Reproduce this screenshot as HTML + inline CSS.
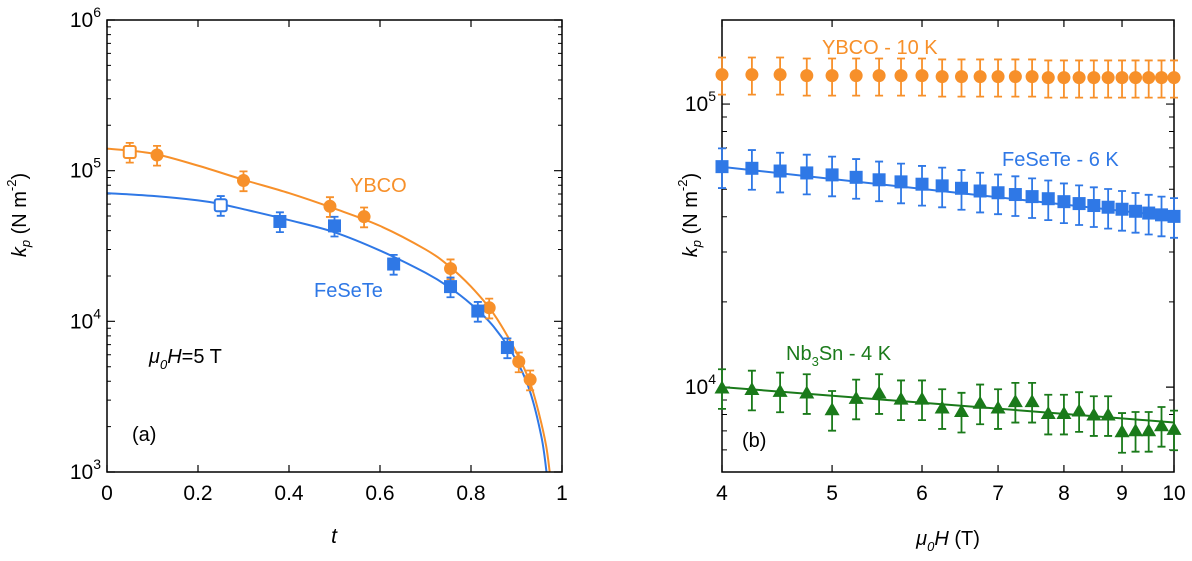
<!DOCTYPE html>
<html><head><meta charset="utf-8"><style>
html,body{margin:0;padding:0;background:#fff;}
svg{display:block;font-family:"Liberation Sans",Arial,sans-serif;}
</style></head><body>
<svg id="fig" width="1192" height="561" viewBox="0 0 1192 561" xmlns="http://www.w3.org/2000/svg">
<g id="pa"></g>
<g id="pb"></g>
<!-- panel a text -->
<text x="21" y="215" transform="rotate(-90 21 215)" font-size="20" text-anchor="middle" dominant-baseline="middle"><tspan font-style="italic">k</tspan><tspan font-style="italic" font-size="13" dy="6">p</tspan><tspan dy="-6"> (N m</tspan><tspan font-size="13" dy="-8">-2</tspan><tspan dy="8">)</tspan></text>
<text x="334" y="543" font-size="21" font-style="italic" text-anchor="middle">t</text>
<text x="350" y="192" font-size="20" fill="#f7902a">YBCO</text>
<text x="314" y="297" font-size="20" fill="#2f78e6">FeSeTe</text>
<text x="149" y="363" font-size="20"><tspan font-style="italic">μ</tspan><tspan font-style="italic" font-size="13" dy="6">0</tspan><tspan font-style="italic" dy="-6">H</tspan>=5 T</text>
<text x="132" y="441" font-size="20">(a)</text>
<!-- panel b text -->
<text x="692" y="215" transform="rotate(-90 692 215)" font-size="20" text-anchor="middle" dominant-baseline="middle"><tspan font-style="italic">k</tspan><tspan font-style="italic" font-size="13" dy="6">p</tspan><tspan dy="-6"> (N m</tspan><tspan font-size="13" dy="-8">-2</tspan><tspan dy="8">)</tspan></text>
<text x="948" y="545" font-size="20" text-anchor="middle"><tspan font-style="italic">μ</tspan><tspan font-style="italic" font-size="13" dy="6">0</tspan><tspan font-style="italic" dy="-6">H</tspan> (T)</text>
<text x="822" y="54" font-size="20" fill="#f7902a">YBCO - 10 K</text>
<text x="1002" y="166" font-size="20" fill="#2f78e6">FeSeTe - 6 K</text>
<text x="786" y="360" font-size="20" fill="#1a7a1a">Nb<tspan font-size="13" dy="6">3</tspan><tspan dy="-6">Sn - 4 K</tspan></text>
<text x="742" y="447" font-size="20">(b)</text>
</svg>
<script>
// ---------- Panel (a) data ----------
const aXTicks = [0, 0.2, 0.4, 0.6, 0.8, 1];
const aXTickLabels = ["0", "0.2", "0.4", "0.6", "0.8", "1"];
const aYDecades = [3, 4, 5, 6];
const ybcoT = [0.05, 0.11, 0.30, 0.49, 0.565, 0.755, 0.84, 0.905, 0.93];
const ybcoK = [1.33e5, 1.27e5, 8.6e4, 5.8e4, 4.95e4, 2.24e4, 1.23e4, 5.4e3, 4.1e3];
const ybcoOpen = [true, false, false, false, false, false, false, false, false];
const feT = [0.25, 0.38, 0.50, 0.63, 0.755, 0.815, 0.88];
const feK = [5.9e4, 4.6e4, 4.3e4, 2.4e4, 1.7e4, 1.17e4, 6.7e3];
const feOpen = [true, false, false, false, false, false, false];
const ybcoFitT = [0, 0.1, 0.2, 0.3, 0.4, 0.5, 0.6, 0.7, 0.75, 0.8, 0.85, 0.9, 0.93, 0.95, 0.965, 0.973];
const ybcoFitK = [1.4e5, 1.3e5, 1.08e5, 8.7e4, 7.1e4, 5.6e4, 4.3e4, 3.0e4, 2.35e4, 1.7e4, 1.12e4, 6.2e3, 3.9e3, 2.4e3, 1.5e3, 1.0e3];
const feFitT = [0, 0.1, 0.2, 0.25, 0.3, 0.4, 0.5, 0.6, 0.7, 0.75, 0.8, 0.85, 0.9, 0.93, 0.955, 0.966];
const feFitK = [7.1e4, 6.8e4, 6.35e4, 6.0e4, 5.55e4, 4.7e4, 3.9e4, 2.95e4, 2.1e4, 1.7e4, 1.3e4, 9.2e3, 5.5e3, 3.4e3, 1.7e3, 1.0e3];
const aErrFrac = 0.15;

// ---------- Panel (b) data ----------
const bXTicks = [4, 5, 6, 7, 8, 9, 10];
const bXTickLabels = ["4", "5", "6", "7", "8", "9", "10"];
const bH = [4,4.25,4.5,4.75,5,5.25,5.5,5.75,6,6.25,6.5,6.75,7,7.25,7.5,7.75,8,8.25,8.5,8.75,9,9.25,9.5,9.75,10];
const bYbco = [1.27e5,1.27e5,1.27e5,1.26e5,1.26e5,1.26e5,1.26e5,1.26e5,1.26e5,1.25e5,1.25e5,1.25e5,1.25e5,1.25e5,1.25e5,1.24e5,1.24e5,1.24e5,1.24e5,1.24e5,1.24e5,1.24e5,1.24e5,1.24e5,1.24e5];
const bFe = [6.01e4,5.93e4,5.80e4,5.71e4,5.62e4,5.51e4,5.40e4,5.31e4,5.21e4,5.14e4,5.04e4,4.93e4,4.86e4,4.79e4,4.71e4,4.63e4,4.52e4,4.45e4,4.38e4,4.32e4,4.25e4,4.18e4,4.12e4,4.06e4,4.01e4];
const bNb = [9.97e3,9.85e3,9.7e3,9.57e3,8.35e3,9.16e3,9.57e3,9.1e3,9.1e3,8.47e3,8.23e3,8.8e3,8.47e3,8.92e3,8.92e3,8.1e3,8.1e3,8.27e3,8.0e3,8.0e3,6.98e3,7.04e3,7.04e3,7.33e3,7.12e3];
const bFeFitH = [4, 10];
const bFeFitK = [6.0e4, 4.0e4];
const bNbFitH = [4, 10];
const bNbFitK = [1.0e4, 7.5e3];
const bErrFrac = [0.15, 0.16, 0.16];

const NS = "http://www.w3.org/2000/svg";
const ORANGE = "#f7902a", BLUE = "#2f78e6", GREEN = "#1a7a1a";
function mk(parent, tag, attrs) {
  const e = document.createElementNS(NS, tag);
  for (const k in attrs) e.setAttribute(k, attrs[k]);
  parent.appendChild(e);
  return e;
}
function smoothPath(pts) {
  let d = "M" + pts[0][0] + "," + pts[0][1];
  for (let i = 0; i < pts.length - 1; i++) {
    const p0 = pts[Math.max(0, i - 1)], p1 = pts[i], p2 = pts[i + 1], p3 = pts[Math.min(pts.length - 1, i + 2)];
    const c1x = p1[0] + (p2[0] - p0[0]) / 6, c1y = p1[1] + (p2[1] - p0[1]) / 6;
    const c2x = p2[0] - (p3[0] - p1[0]) / 6, c2y = p2[1] - (p3[1] - p1[1]) / 6;
    d += " C" + c1x + "," + c1y + " " + c2x + "," + c2y + " " + p2[0] + "," + p2[1];
  }
  return d;
}
function errBar(g, x, y1, y2, color) {
  const e = mk(g, "path", {d: `M${x},${y1}V${y2}M${x-4},${y1}H${x+4}M${x-4},${y2}H${x+4}`, stroke: color, "stroke-width": 1.8, fill: "none"});
  
  
}
function openMarker(g, x, y, color, name) {
  const s = mk(g, "rect", {x: x - 6, y: y - 6, width: 12, height: 12, rx: 2, fill: "#fff", stroke: color, "stroke-width": 2});
  
  
}
function circle(g, x, y, color, open) {
  if (open) { openMarker(g, x, y, color, 'ybco-open-point'); return; }
  const c = mk(g, "circle", {cx: x, cy: y, r: 6.5, fill: color});
  
  
}
function square(g, x, y, color, open) {
  if (open) { openMarker(g, x, y, color, 'fesete-open-point'); return; }
  const s = mk(g, "rect", {x: x - 6.5, y: y - 6.5, width: 13, height: 13, fill: color});
  
  
}
function tri(g, x, y, color) {
  const t = mk(g, "polygon", {points: `${x},${y-7} ${x+7.5},${y+6} ${x-7.5},${y+6}`, fill: color});
  
  
}
function frame(g, L, T, R, B) {
  const f = mk(g, "rect", {x: L, y: T, width: R - L, height: B - T, fill: "none", stroke: "#000", "stroke-width": 1.5});
  
  
}
function ytickLabel(g, x, y, exp) {
  const t = mk(g, "text", {x: x, y: y + 7, "font-size": 21, "text-anchor": "end"});
  t.textContent = "10";
  const s = mk(t, "tspan", {"font-size": 14, dy: -10});
  s.textContent = exp;
  
  
}

// ---------- Panel (a) ----------
(function () {
  const g = document.getElementById("pa");
  const L = 107, R = 562, T = 20, B = 472;
  const xs = t => L + t * (R - L);
  const ys = k => B - (Math.log10(k) - 3) / 3 * (B - T);
  const clip = mk(g, "clipPath", {id: "ca"});
  mk(clip, "rect", {x: L, y: T, width: R - L, height: B - T});
  aXTicks.forEach((v, i) => {
    const x = xs(v);
    const tk = mk(g, "path", {d: `M${x},${B}V${B-7}M${x},${T}V${T+7}`, stroke: "#000", "stroke-width": 1.2});
    
    
    const lb = mk(g, "text", {x: x, y: B + 28, "font-size": 21, "text-anchor": "middle"});
    lb.textContent = aXTickLabels[i];
    
    
  });
  aYDecades.forEach(e => {
    const y = ys(Math.pow(10, e));
    const tk = mk(g, "path", {d: `M${L},${y}H${L+8}M${R},${y}H${R-8}`, stroke: "#000", "stroke-width": 1.2});
    
    
    ytickLabel(g, L - 6, y, String(e));
    if (e < 6) for (let m = 2; m <= 9; m++) {
      const ym = ys(m * Math.pow(10, e));
      const mt = mk(g, "path", {d: `M${L},${ym}H${L+4}M${R},${ym}H${R-4}`, stroke: "#000", "stroke-width": 1});
      
      
    }
  });
  const cg = mk(g, "g", {"clip-path": "url(#ca)"});
  const f1 = mk(cg, "path", {d: smoothPath(ybcoFitT.map((t, i) => [xs(t), ys(ybcoFitK[i])])), stroke: ORANGE, "stroke-width": 2, fill: "none"});
  
  
  const f2 = mk(cg, "path", {d: smoothPath(feFitT.map((t, i) => [xs(t), ys(feFitK[i])])), stroke: BLUE, "stroke-width": 2, fill: "none"});
  
  
  ybcoT.forEach((t, i) => {
    errBar(g, xs(t), ys(ybcoK[i] * (1 + aErrFrac)), ys(ybcoK[i] * (1 - aErrFrac)), ORANGE);
    circle(g, xs(t), ys(ybcoK[i]), ORANGE, ybcoOpen[i]);
  });
  feT.forEach((t, i) => {
    errBar(g, xs(t), ys(feK[i] * (1 + aErrFrac)), ys(feK[i] * (1 - aErrFrac)), BLUE);
    square(g, xs(t), ys(feK[i]), BLUE, feOpen[i]);
  });
  frame(g, L, T, R, B);
})();

// ---------- Panel (b) ----------
(function () {
  const g = document.getElementById("pb");
  const L = 722, R = 1174, T = 20, B = 472;
  const lx0 = Math.log10(4), lx1 = Math.log10(10);
  const ly0 = 3.70, ly1 = 5.297;
  const xs = h => L + (Math.log10(h) - lx0) / (lx1 - lx0) * (R - L);
  const ys = k => B - (Math.log10(k) - ly0) / (ly1 - ly0) * (B - T);
  const clip = mk(g, "clipPath", {id: "cb"});
  mk(clip, "rect", {x: L, y: T, width: R - L, height: B - T});
  bXTicks.forEach((v, i) => {
    const x = xs(v);
    const tk = mk(g, "path", {d: `M${x},${B}V${B-7}M${x},${T}V${T+7}`, stroke: "#000", "stroke-width": 1.2});
    
    
    const lb = mk(g, "text", {x: x, y: B + 28, "font-size": 21, "text-anchor": "middle"});
    lb.textContent = bXTickLabels[i];
    
    
  });
  [4, 5].forEach(e => {
    const y = ys(Math.pow(10, e));
    const tk = mk(g, "path", {d: `M${L},${y}H${L+8}M${R},${y}H${R-8}`, stroke: "#000", "stroke-width": 1.2});
    
    
    ytickLabel(g, L - 6, y, String(e));
  });
  [6e3, 7e3, 8e3, 9e3, 2e4, 3e4, 4e4, 5e4, 6e4, 7e4, 8e4, 9e4].forEach(v => {
    const ym = ys(v);
    const mt = mk(g, "path", {d: `M${L},${ym}H${L+5}M${R},${ym}H${R-5}`, stroke: "#000", "stroke-width": 1});
    
    
  });
  const cg = mk(g, "g", {"clip-path": "url(#cb)"});
  const l1 = mk(cg, "path", {d: `M${xs(bFeFitH[0])},${ys(bFeFitK[0])}L${xs(bFeFitH[1])},${ys(bFeFitK[1])}`, stroke: BLUE, "stroke-width": 2});
  
  
  const l2 = mk(cg, "path", {d: `M${xs(bNbFitH[0])},${ys(bNbFitK[0])}L${xs(bNbFitH[1])},${ys(bNbFitK[1])}`, stroke: GREEN, "stroke-width": 2});
  
  
  frame(g, L, T, R, B);
  bH.forEach((h, i) => {
    const x = xs(h);
    errBar(g, x, ys(bYbco[i] * (1 + bErrFrac[0])), ys(bYbco[i] * (1 - bErrFrac[0])), ORANGE);
    circle(g, x, ys(bYbco[i]), ORANGE, false);
    errBar(g, x, ys(bFe[i] * (1 + bErrFrac[1])), ys(bFe[i] * (1 - bErrFrac[1])), BLUE);
    square(g, x, ys(bFe[i]), BLUE, false);
    errBar(g, x, ys(bNb[i] * (1 + bErrFrac[2])), ys(bNb[i] * (1 - bErrFrac[2])), GREEN);
    tri(g, x, ys(bNb[i]), GREEN);
  });
})();
</script>
</body></html>
